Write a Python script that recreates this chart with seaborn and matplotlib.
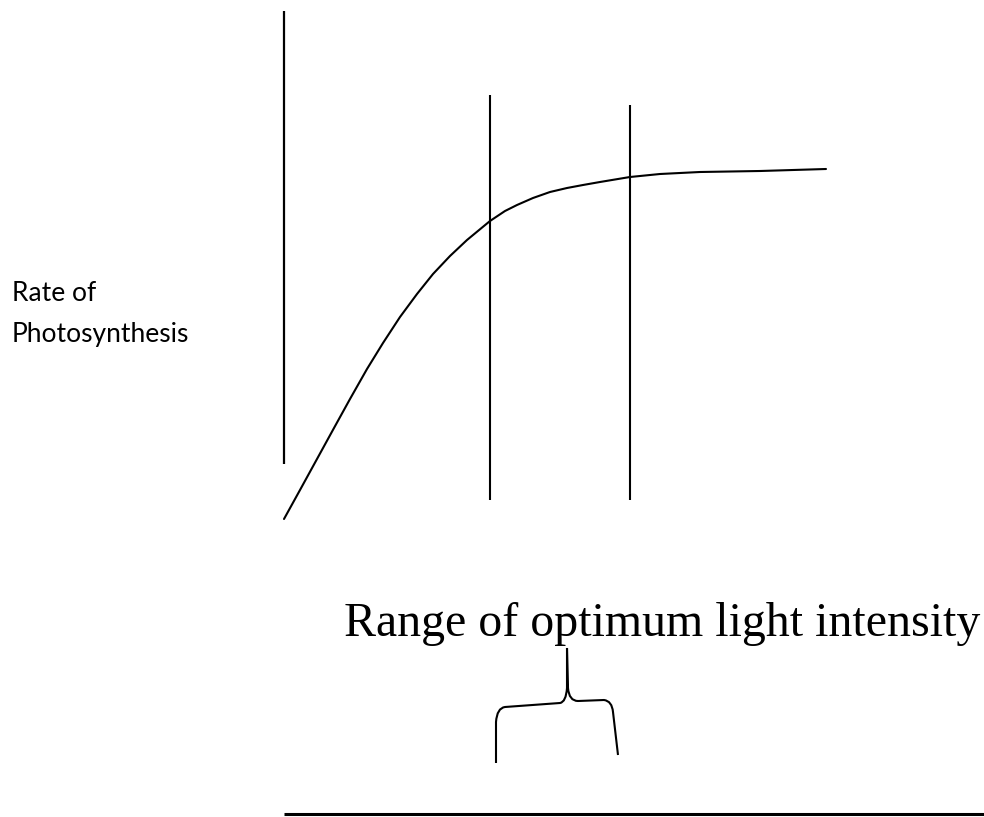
import numpy as np
import pandas as pd
import matplotlib
matplotlib.use("Agg")
import matplotlib.pyplot as plt
import seaborn as sns
from matplotlib.path import Path
from matplotlib.patches import PathPatch

# light intensity (arbitrary units) vs rate of photosynthesis (arbitrary units)
light = [0, 16, 33, 50, 66, 83, 99, 116, 133, 149, 166, 183, 206, 221, 233,
         249, 266, 283, 299, 316, 346, 376, 416, 476, 542]
rate = [0, 29, 60, 91, 120, 150, 176, 202, 225, 245, 263, 279, 298, 308, 314,
        321, 327, 331, 334, 337, 342, 345, 347, 348, 350]

# optimum range markers
opt_range = [206, 346]
opt_top = [424, 414]
opt_bottom = 19

# y axis line
yaxis_span = [55, 508]
# x axis line
xaxis_span = [0, 700]
xaxis_level = -295

sns.set_theme(style="white")

df = pd.DataFrame({"light": light, "rate": rate})

fig = plt.figure(figsize=(9.84, 8.17), dpi=100)
ax = fig.add_axes([0, 0, 1, 1])
ax.set_xlim(-284, 700)
ax.set_ylim(-298, 519)
ax.axis("off")

sns.lineplot(data=df, x="light", y="rate", ax=ax, color="black", lw=1.5,
             estimator=None, sort=False)

ax.vlines(light[0], yaxis_span[0], yaxis_span[1], color="black", lw=1.6)
for xv, top in zip(opt_range, opt_top):
    ax.vlines(xv, opt_bottom, top, color="black", lw=1.5)
ax.hlines(xaxis_level, xaxis_span[0], xaxis_span[1], color="black", lw=2.2)

# curly brace under the label
lo, hi = opt_range
mid = (lo + hi) / 2 + 7
verts = [
    (lo + 6, -244), (lo + 6, -203),
    (lo + 7, -189), (lo + 15, -188),
    (mid - 7, -184),
    (mid - 1, -183), (mid, -169),
    (mid, -129),
    (mid + 1, -169),
    (mid + 2, -182), (mid + 11, -182),
    (hi - 26, -181),
    (hi - 18, -182), (hi - 17, -193),
    (hi - 12, -236),
]
codes = [
    Path.MOVETO, Path.LINETO,
    Path.CURVE3, Path.CURVE3,
    Path.LINETO,
    Path.CURVE3, Path.CURVE3,
    Path.LINETO,
    Path.LINETO,
    Path.CURVE3, Path.CURVE3,
    Path.LINETO,
    Path.CURVE3, Path.CURVE3,
    Path.LINETO,
]
ax.add_patch(PathPatch(Path(verts, codes), fill=False, color="black", lw=1.5))

sans = ["Lato", "DejaVu Sans"]
ax.text(-272, 218, "Rate of", family=sans, fontsize=19, va="baseline",
        ha="left", color="black")
ax.text(-272, 177, "Photosynthesis", family=sans, fontsize=19, va="baseline",
        ha="left", color="black")

ax.text(60, -117, "Range of optimum light intensity", family=["Liberation Serif"],
        fontsize=34.5, va="baseline", ha="left", color="black")

plt.savefig("out.png", dpi=100)
